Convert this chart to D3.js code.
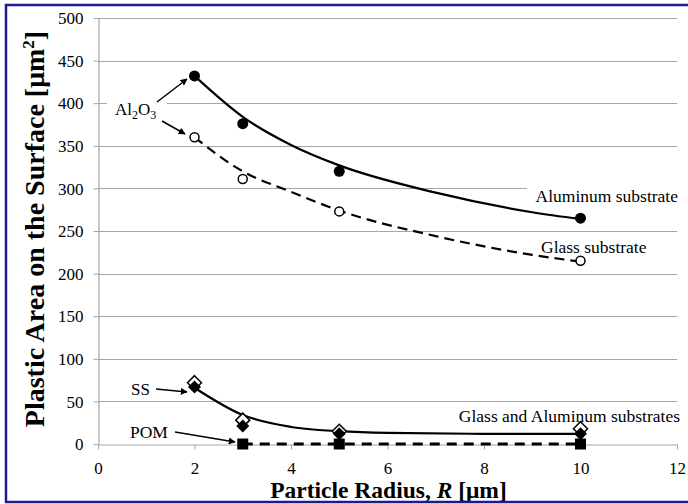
<!DOCTYPE html>
<html>
<head>
<meta charset="utf-8">
<script src="https://cdn.jsdelivr.net/npm/d3@7"></script>
<style>
body { margin: 0; background: #fff; }
text { font-family: "Liberation Serif", "Times New Roman", serif; fill: #000; }
</style>
</head>
<body>
<div id="chart"></div>
<script>
var width = 688;
var height = 504;

// values
var radius = [2, 3, 5, 10];
var alumValues = [432, 376, 320, 265];
var glassValues = [360, 311, 273, 215];
var ssOpenValues = [72, 28, 15, 18];
var ssFilledValues = [67, 21, 12, 12];
var pomRadius = [3, 5, 10];
var pomValues = [0, 0, 0];

// trend lines
var trendX = [2, 3, 4, 5, 7, 9, 10];
var alumTrend = [432, 384, 351, 327, 295, 272, 264];
var glassTrend = [360, 320, 296, 274, 244, 222, 214];
var ssTrendX = [2, 3, 4, 5, 6, 8, 10];
var ssTrend = [66, 34, 20, 15, 13, 12, 12];

var xTicks = [0, 2, 4, 6, 8, 10, 12];
var yTicks = [0, 50, 100, 150, 200, 250, 300, 350, 400, 450, 500];

var gridColor = "#a6a6a6";
var serif = "Liberation Serif, Times New Roman, serif";

var xScale = d3.scaleLinear().domain([0, 12]).range([98, 677]);
var yScale = d3.scaleLinear().domain([0, 500]).range([444, 18]);

var svg = d3.select("#chart")
    .append("svg")
    .attr("width", width)
    .attr("height", height)
    .attr("font-family", serif);

svg.append("rect")
    .attr("width", width)
    .attr("height", height)
    .attr("fill", "#fff");

// arrow head
svg.append("defs").append("marker")
    .attr("id", "arrow")
    .attr("viewBox", "0 0 10 10")
    .attr("refX", 9)
    .attr("refY", 5)
    .attr("markerWidth", 7)
    .attr("markerHeight", 7)
    .attr("markerUnits", "userSpaceOnUse")
    .attr("orient", "auto")
    .append("path")
    .attr("d", "M0,0L10,5L0,10Z")
    .attr("fill", "#000");

// gridlines
svg.append("g")
    .selectAll("line")
    .data(yTicks.filter(function(d) { return d > 0; }))
    .enter()
    .append("line")
    .attr("x1", xScale(0))
    .attr("x2", xScale(12))
    .attr("y1", function(d) { return Math.round(yScale(d)) + 0.5; })
    .attr("y2", function(d) { return Math.round(yScale(d)) + 0.5; })
    .attr("stroke", gridColor)
    .attr("stroke-width", 1);

// axes
var yAxis = d3.axisLeft(yScale).tickValues(yTicks).tickSize(5).tickSizeOuter(0).tickPadding(10);
var xAxis = d3.axisBottom(xScale).tickValues(xTicks).tickSize(5).tickSizeOuter(0).tickPadding(12);

var gy = svg.append("g")
    .attr("transform", "translate(" + (xScale(0) + 0.5) + ",0)")
    .call(yAxis);
var gx = svg.append("g")
    .attr("transform", "translate(0," + (Math.round(yScale(0)) + 0.5) + ")")
    .call(xAxis);

[gx, gy].forEach(function(g) {
    g.attr("font-family", serif).attr("font-size", 17);
    g.select(".domain").attr("stroke", gridColor).attr("stroke-width", 1.2);
    g.selectAll(".tick line").attr("stroke", gridColor);
    g.selectAll(".tick text").attr("fill", "#000");
});
gy.selectAll(".tick text").attr("dy", "0.34em");

// label boxes hiding gridlines
function whiteBox(x, y, w, h) {
    svg.append("rect").attr("x", x).attr("y", y).attr("width", w).attr("height", h).attr("fill", "#fff");
}
whiteBox(107, 96, 60, 24);
whiteBox(527, 184, 152, 22);

// trend lines
var line = d3.line()
    .x(function(d) { return xScale(d[0]); })
    .y(function(d) { return yScale(d[1]); })
    .curve(d3.curveMonotoneX);

svg.append("path")
    .datum(d3.zip(trendX, alumTrend))
    .attr("d", line)
    .attr("fill", "none")
    .attr("stroke", "#000")
    .attr("stroke-width", 2.2);

svg.append("path")
    .datum(d3.zip(trendX, glassTrend))
    .attr("d", line)
    .attr("fill", "none")
    .attr("stroke", "#000")
    .attr("stroke-width", 2.2)
    .attr("stroke-dasharray", "10,6");

svg.append("path")
    .datum(d3.zip(ssTrendX, ssTrend))
    .attr("d", line)
    .attr("fill", "none")
    .attr("stroke", "#000")
    .attr("stroke-width", 2.2);

svg.append("path")
    .datum(d3.zip(pomRadius, pomValues))
    .attr("d", line)
    .attr("fill", "none")
    .attr("stroke", "#000")
    .attr("stroke-width", 3)
    .attr("stroke-dasharray", "10,7");

// markers
svg.append("g").selectAll("path")
    .data(d3.zip(radius, ssOpenValues))
    .enter()
    .append("path")
    .attr("d", "M0,-7L7,0L0,7L-7,0Z")
    .attr("transform", function(d) { return "translate(" + xScale(d[0]) + "," + yScale(d[1]) + ")"; })
    .attr("fill", "#fff")
    .attr("stroke", "#000")
    .attr("stroke-width", 1.5);

svg.append("g").selectAll("path")
    .data(d3.zip(radius, ssFilledValues))
    .enter()
    .append("path")
    .attr("d", "M0,-6.5L6.5,0L0,6.5L-6.5,0Z")
    .attr("transform", function(d) { return "translate(" + xScale(d[0]) + "," + yScale(d[1]) + ")"; })
    .attr("fill", "#000");

svg.append("g").selectAll("rect")
    .data(d3.zip(pomRadius, pomValues))
    .enter()
    .append("rect")
    .attr("x", function(d) { return xScale(d[0]) - 5.5; })
    .attr("y", function(d) { return yScale(d[1]) - 5.5; })
    .attr("width", 11)
    .attr("height", 11)
    .attr("fill", "#000");

svg.append("g").selectAll("circle")
    .data(d3.zip(radius, glassValues))
    .enter()
    .append("circle")
    .attr("cx", function(d) { return xScale(d[0]); })
    .attr("cy", function(d) { return yScale(d[1]); })
    .attr("r", 4.5)
    .attr("fill", "#fff")
    .attr("stroke", "#000")
    .attr("stroke-width", 1.5);

svg.append("g").selectAll("circle")
    .data(d3.zip(radius, alumValues))
    .enter()
    .append("circle")
    .attr("cx", function(d) { return xScale(d[0]); })
    .attr("cy", function(d) { return yScale(d[1]); })
    .attr("r", 5.5)
    .attr("fill", "#000");

// annotations
function arrow(x1, y1, x2, y2) {
    svg.append("line")
        .attr("x1", x1).attr("y1", y1).attr("x2", x2).attr("y2", y2)
        .attr("stroke", "#000")
        .attr("stroke-width", 1.5)
        .attr("marker-end", "url(#arrow)");
}

var al = svg.append("text")
    .attr("x", 115)
    .attr("y", 115)
    .style("font-size", "17px");
al.append("tspan").text("Al");
al.append("tspan").attr("dy", 4).style("font-size", "12px").text("2");
al.append("tspan").attr("dy", -4).text("O");
al.append("tspan").attr("dy", 4).style("font-size", "12px").text("3");

arrow(157, 102, 187, 79);
arrow(162, 121, 185, 134);

svg.append("text").attr("x", 678).attr("y", 202)
    .attr("text-anchor", "end").style("font-size", "17.5px").text("Aluminum substrate");
svg.append("text").attr("x", 541).attr("y", 253)
    .style("font-size", "17.5px").text("Glass substrate");
svg.append("text").attr("x", 680).attr("y", 422)
    .attr("text-anchor", "end").style("font-size", "17.5px").text("Glass and Aluminum substrates");

svg.append("text").attr("x", 131).attr("y", 395)
    .style("font-size", "17px").text("SS");
arrow(156, 389, 187, 392);

svg.append("text").attr("x", 130).attr("y", 438)
    .style("font-size", "17.5px").text("POM");
arrow(175, 432, 235, 442);

// axis titles
var xt = svg.append("text")
    .attr("x", (xScale(0) + xScale(12)) / 2 + 1)
    .attr("y", 498)
    .attr("text-anchor", "middle")
    .style("font-size", "23.5px")
    .style("font-weight", "bold");
xt.append("tspan").text("Particle Radius, ");
xt.append("tspan").style("font-style", "italic").text("R");
xt.append("tspan").text(" [\u03bcm]");

var yt = svg.append("text")
    .attr("transform", "translate(44," + (yScale(250) - 2) + ") rotate(-90)")
    .attr("text-anchor", "middle")
    .style("font-size", "28px")
    .style("font-weight", "bold");
yt.append("tspan").text("Plastic Area on the Surface [\u03bcm");
yt.append("tspan").attr("dy", -10).style("font-size", "17px").text("2");
yt.append("tspan").attr("dy", 10).text("]");

// outer frame
svg.append("rect")
    .attr("x", 6)
    .attr("y", 5)
    .attr("width", 690)
    .attr("height", 497)
    .attr("fill", "none")
    .attr("stroke", "#1c1c8c")
    .attr("stroke-width", 2.5);
</script>
</body>
</html>
